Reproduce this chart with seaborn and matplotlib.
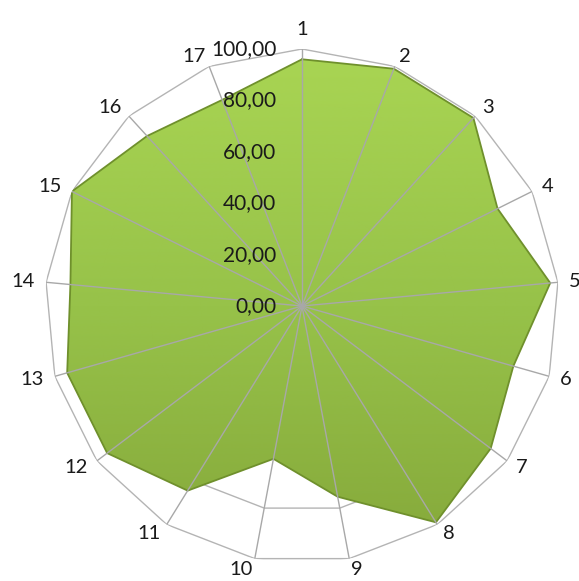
import numpy as np
import matplotlib
matplotlib.use("Agg")
import matplotlib.pyplot as plt
from matplotlib.image import BboxImage
from matplotlib.colors import LinearSegmentedColormap
import seaborn as sns

# data
categories = [str(i) for i in range(1, 18)]
values = [96, 99, 99, 85, 97, 85.5, 92, 99, 75.5, 60.5, 84.5, 95, 95, 90.5, 100, 89.5, 86]
ring_values = [0, 20, 40, 60, 80, 100]
ring_labels = ["0,00", "20,00", "40,00", "60,00", "80,00", "100,00"]

sns.set_style("white")
plt.rcParams["font.family"] = ["Lato", "DejaVu Sans"]

n = len(categories)
angles = np.linspace(0, 2 * np.pi, n, endpoint=False)
ang_closed = np.append(angles, angles[0])
val_closed = np.append(values, values[0])

fig = plt.figure(figsize=(5.79, 5.81), dpi=100)
ax = fig.add_axes([45 / 579, 18 / 581, 514 / 579, 514 / 581], projection="polar")
ax.set_theta_offset(np.pi / 2)
ax.set_theta_direction(-1)
ax.set_ylim(0, 100)
ax.grid(False)
ax.set_xticks([])
ax.set_yticks([])
ax.spines["polar"].set_visible(False)
ax.patch.set_alpha(0)

# polygon rings (behind the fill)
for r in ring_values[1:]:
    ax.plot(ang_closed, [r] * (n + 1), color="#b4b4b4", lw=1.0, zorder=1)

# filled area with a vertical green gradient (light on top, darker below)
poly = ax.fill(ang_closed, val_closed, facecolor="none", edgecolor="none", zorder=2)[0]
cmap = LinearSegmentedColormap.from_list("grn", ["#a9d553", "#97c249", "#85a83a"])
grad = np.linspace(0, 1, 256).reshape(-1, 1)
img = BboxImage(ax.bbox, cmap=cmap, interpolation="bicubic", zorder=2)
img.set_data(grad)
ax.add_artist(img)
img.set_clip_path(poly)

# darker outline
ax.plot(ang_closed, val_closed, color="#6f902c", lw=1.3, zorder=3)

# spokes on top of the fill
for a in angles:
    ax.plot([a, a], [0, 100], color="#a8a8a8", lw=1.0, zorder=4)

# category labels, anchored on the outside of each spoke tip
for a, lab in zip(angles, categories):
    s = np.sin(a)
    if s > 0.05:
        ha, va = "left", "center"
    elif s < -0.05:
        ha, va = "right", "center"
    else:
        ha, va = "center", "bottom"
    ax.text(a, 104.3, lab, ha=ha, va=va, fontsize=14.5, color="#1a1a1a", zorder=5)

# value axis labels left of the first spoke
for r, lab in zip(ring_values, ring_labels):
    ax.annotate(lab, xy=(0, r), xytext=(-18.5, 0), textcoords="offset points",
                ha="right", va="center", fontsize=15, color="#1a1a1a", zorder=5,
                annotation_clip=False)

fig.savefig("out.png", dpi=100)
